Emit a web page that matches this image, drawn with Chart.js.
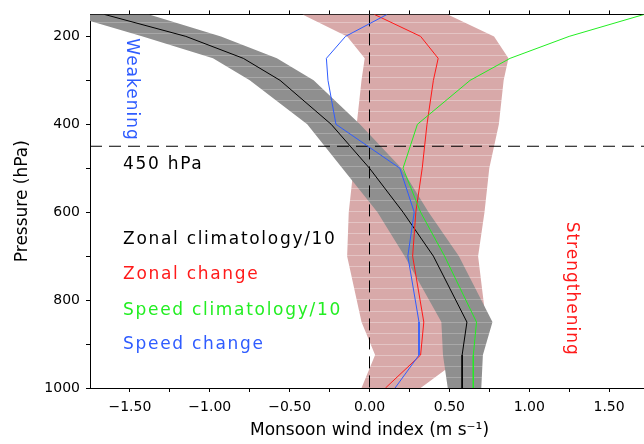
<!DOCTYPE html>
<html lang="en">
<head>
<meta charset="UTF-8">
<title>Monsoon wind index profile</title>
<script src="https://cdn.jsdelivr.net/npm/chart.js"></script>
<style>
  html, body { margin: 0; padding: 0; background: #fff; overflow: hidden; }
  #wrap { width: 652px; height: 444px; }
</style>
</head>
<body>
<div id="wrap"><canvas id="chart" width="652" height="444"></canvas></div>
<script>
// pressure levels (hPa), shared by every profile below
const levels      = [150, 200, 250, 300, 400, 500, 600, 700, 850, 925, 1000];
const zonalClim   = [-1.66, -1.15, -0.79, -0.56, -0.24, 0.00, 0.21, 0.40, 0.61, 0.58, 0.58];
const zonalClimLo = [-1.89, -1.42, -0.98, -0.75, -0.39, -0.17, 0.05, 0.22, 0.45, 0.46, 0.49];
const zonalClimHi = [-1.38, -0.93, -0.58, -0.35, -0.06, 0.20, 0.37, 0.56, 0.77, 0.71, 0.70];
const zonalChg    = [0.03, 0.32, 0.43, 0.40, 0.36, 0.33, 0.29, 0.27, 0.34, 0.32, 0.10];
const zonalChgLo  = [-0.42, -0.14, -0.03, -0.05, -0.08, -0.10, -0.13, -0.14, -0.05, 0.035, -0.05];
const zonalChgHi  = [0.49, 0.78, 0.87, 0.84, 0.81, 0.75, 0.72, 0.68, 0.73, 0.60, 0.32];
const speedClim   = [1.72, 1.25, 0.88, 0.63, 0.30, 0.21, 0.32, 0.47, 0.67, 0.65, 0.65];
const speedChg    = [0.11, -0.15, -0.27, -0.26, -0.21, 0.19, 0.28, 0.24, 0.31, 0.31, 0.16];

const xTicks = [-1.5, -1.25, -1, -0.75, -0.5, -0.25, 0, 0.25, 0.5, 0.75, 1, 1.25, 1.5];
const yTicks = [200, 300, 400, 500, 600, 700, 800, 900, 1000];
const refPressure = 450;

const RED = '#ff1a1a', GREEN = '#22ee22', BLUE = '#2f5cff';
const FONT = '"DejaVu Sans", sans-serif';

const pts = vals => vals.map((v, i) => ({ x: v, y: levels[i] }));
const band = (lo, hi) => pts(lo).concat(pts(hi).reverse());

// the original fill has faint light rows every 25 hPa
function stripes(base, line) {
  const c = document.createElement('canvas');
  c.width = 4; c.height = 111;
  const g = c.getContext('2d');
  g.fillStyle = base; g.fillRect(0, 0, 4, 111);
  g.fillStyle = line;
  [0, 11, 22, 33, 44, 55, 66, 77, 89, 100].forEach(y => g.fillRect(0, y, 4, 1));
  return g.createPattern(c, 'repeat');
}

const notes = [
  { text: 'Weakening', color: BLUE, x: -1.49, y: 321, rot: true },
  { text: 'Strengthening', color: RED, x: 1.262, y: 774, rot: true },
  { text: '450 hPa', color: '#000', x: -1.543, y: 502 },
  { text: 'Zonal climatology/10', color: '#000', x: -1.543, y: 673 },
  { text: 'Zonal change', color: RED, x: -1.543, y: 752 },
  { text: 'Speed climatology/10', color: GREEN, x: -1.543, y: 833 },
  { text: 'Speed change', color: BLUE, x: -1.543, y: 912 }
];

const notesPlugin = {
  id: 'notes',
  afterDatasetsDraw(chart) {
    const { ctx, scales } = chart;
    ctx.save();
    ctx.font = '17px ' + FONT;
    notes.forEach(n => {
      const px = scales.x.getPixelForValue(n.x);
      const py = scales.y.getPixelForValue(n.y);
      ctx.fillStyle = n.color;
      if (n.rot) {
        ctx.save();
        ctx.letterSpacing = '1px';
        ctx.translate(px, py);
        ctx.rotate(Math.PI / 2);
        ctx.textAlign = 'center';
        ctx.textBaseline = 'middle';
        ctx.fillText(n.text, 0, 0);
        ctx.restore();
      } else {
        ctx.letterSpacing = '1.7px';
        ctx.textAlign = 'left';
        ctx.textBaseline = 'alphabetic';
        ctx.fillText(n.text, px, py);
      }
    });
    ctx.restore();
  }
};

const line = (vals, color, order) => ({
  data: pts(vals), showLine: true, borderColor: color, borderWidth: 1,
  pointRadius: 0, fill: false, order: order
});

const axisGrid = { display: true, drawOnChartArea: false, drawTicks: true, tickLength: 4, color: '#000', lineWidth: 1 };
const axisBorder = { display: true, color: '#000', width: 1 };

new Chart(document.getElementById('chart'), {
  type: 'scatter',
  data: {
    datasets: [
      line(zonalClim, '#000', 3),
      line(zonalChg, RED, 2),
      line(speedClim, GREEN, 1),
      line(speedChg, BLUE, 0),
      { data: [{ x: 0, y: levels[0] }, { x: 0, y: 1000 }], showLine: true, borderColor: '#000',
        borderWidth: 1, borderDash: [12, 7], pointRadius: 0, order: 4 },
      { data: [{ x: -1.75, y: refPressure }, { x: 1.75, y: refPressure }], showLine: true, borderColor: '#000',
        borderWidth: 1, borderDash: [12, 7], pointRadius: 0, order: 4 },
      { data: band(zonalClimLo, zonalClimHi), showLine: true, fill: 'shape', borderWidth: 0,
        borderColor: 'rgba(0,0,0,0)', backgroundColor: stripes('#8f8f8f', '#a8a8a8'), pointRadius: 0, order: 5 },
      { data: band(zonalChgLo, zonalChgHi), showLine: true, fill: 'shape', borderWidth: 0,
        borderColor: 'rgba(0,0,0,0)', backgroundColor: stripes('#d8a9a9', '#e4c4c4'), pointRadius: 0, order: 6 }
    ]
  },
  options: {
    responsive: false,
    animation: false,
    indexAxis: 'y',
    layout: { padding: { left: 0, top: 0, right: 3, bottom: 0 } },
    plugins: { legend: { display: false }, tooltip: { enabled: false } },
    scales: {
      x: {
        type: 'linear', position: 'bottom', min: -1.75, max: 1.75,
        afterBuildTicks: s => { s.ticks = xTicks.map(v => ({ value: v })); },
        afterFit: s => { s.height = 56; },
        ticks: {
          autoSkip: false, maxRotation: 0, padding: 7, color: '#000',
          font: { family: FONT, size: 14 },
          callback: v => (Math.abs(v * 2 - Math.round(v * 2)) < 1e-9) ? v.toFixed(2).replace('-', '\u2212') : ''
        },
        grid: axisGrid, border: axisBorder,
        title: { display: true, text: 'Monsoon wind index (m s\u207B\u00B9)', color: '#000',
          font: { family: FONT, size: 17 }, padding: { top: 0, bottom: 3 } }
      },
      x2: {
        type: 'linear', axis: 'x', position: 'top', min: -1.75, max: 1.75,
        afterBuildTicks: s => { s.ticks = xTicks.map(v => ({ value: v })); },
        afterFit: s => { s.height = 11; },
        ticks: { display: false },
        grid: axisGrid, border: axisBorder
      },
      y: {
        type: 'linear', position: 'left', reverse: true, min: 150, max: 1000,
        afterBuildTicks: s => { s.ticks = yTicks.map(v => ({ value: v })); },
        afterFit: s => { s.width = 90; },
        ticks: {
          autoSkip: false, padding: 6, color: '#000',
          font: { family: FONT, size: 14 },
          callback: v => (v % 200 === 0) ? String(v) : ''
        },
        grid: axisGrid, border: axisBorder,
        title: { display: true, text: 'Pressure (hPa)', color: '#000',
          font: { family: FONT, size: 17 }, padding: { top: 12, bottom: 0 } }
      }
    }
  },
  plugins: [notesPlugin]
});
</script>
</body>
</html>
